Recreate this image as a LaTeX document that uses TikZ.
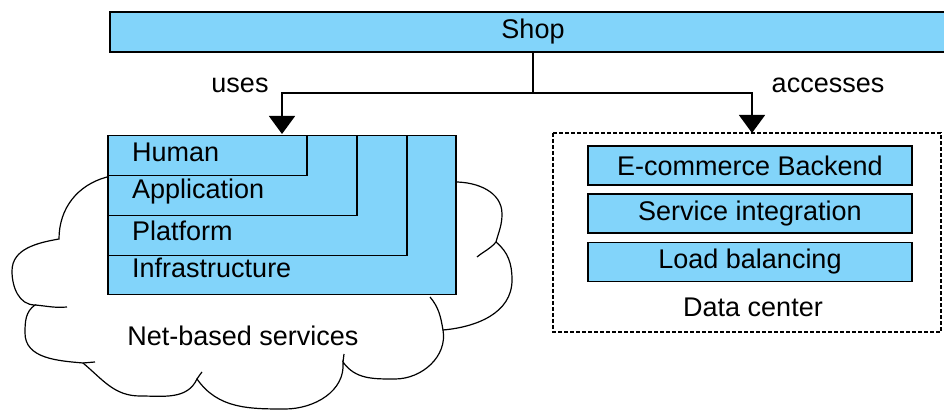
\documentclass[tikz,border=0pt]{standalone}
\usepackage{fontspec}
\setmainfont{Liberation Sans}
\usepackage{tikz}
\usetikzlibrary{arrows.meta}
\definecolor{bleucouche}{RGB}{130,212,250}
\newcommand{\tx}{\fontsize{27}{31}\selectfont}
\tikzstyle{trait}=[line width=1.5pt]
\tikzstyle{couche}=[draw,trait,fill=bleucouche,inner sep=0,anchor=north west]
\tikzstyle{bloc}=[draw,trait,fill=bleucouche,inner sep=0,minimum width=324pt,minimum height=39pt]
\tikzstyle{texte}=[font=\tx,inner sep=0]
\tikzstyle{fleche}=[trait,-{Triangle[width=26pt,length=18pt]}]
\tikzstyle{nuage}=[line width=1.2pt,fill=white]
\begin{document}
\begin{tikzpicture}[x=1pt,y=1pt]
\useasboundingbox (0,0) rectangle (944,411);
\clip (0,0) rectangle (944,411);
\fill[white] (0,0) rectangle (944,411);

%haut
\node[bloc,minimum width=846pt,minimum height=40pt] (shop) at (533,379) {};
\node[texte] (shoplbl) at (shop) {Shop};
\coordinate (partage) at (533,318);
\coordinate (usesend) at (282,277);
\coordinate (accend) at (752,278);
\draw[trait] (shop.south) -- (partage);
\draw[fleche] (partage) -| (usesend);
\draw[fleche] (partage) -| (accend);
\node[texte] (uses) at (240,326) {uses};
\node[texte] (accesses) at (828,326) {accesses};

%nuage
\draw[nuage] (107,234) to[out=195,in=90] (59,172)
  to[out=190,in=90] (12,140) to[out=-90,in=180] (35,106)
  to[out=215,in=90] (25,78) to[out=-90,in=175] (83,48)
  to[out=-40,in=180] (140,15) to[out=0,in=-115] (197,32)
  to[out=-55,in=180] (285,2) to[out=0,in=-85] (343,49)
  to[out=-55,in=180] (395,32) to[out=0,in=-80] (443,81)
  to[out=5,in=-90] (512,131) to[out=90,in=-40] (496,169)
  to[out=75,in=-90] (502,197) to[out=90,in=0] (455,229) -- (300,200) -- cycle;
\draw[line width=1.2pt] (35,106) to[out=-5,in=185] (67,104);
\draw[line width=1.2pt] (83,48) -- (95,49);
\draw[line width=1.2pt] (197,32) to[out=65,in=-120] (202,39);
\draw[line width=1.2pt] (343,49) -- (344,57);
\draw[line width=1.2pt] (443,81) to[out=100,in=-50] (430,114);
\draw[line width=1.2pt] (477,154) to[out=40,in=-130] (496,169);

%couches
\node[couche,minimum width=348pt,minimum height=159pt] (infra) at (107,276) {};
\node[couche,minimum width=299pt,minimum height=120pt] (platform) at (107,276) {};
\node[couche,minimum width=249pt,minimum height=80pt] (application) at (107,276) {};
\node[couche,minimum width=199pt,minimum height=40pt] (human) at (107,276) {};
\node[texte,anchor=west] (humanlbl) at (132,259) {Human};
\node[texte,anchor=west] (applbl) at (132,219) {Application};
\node[texte,anchor=west] (platlbl) at (132,180) {Platform};
\node[texte,anchor=west] (infralbl) at (132,143) {Infrastructure};
\node[texte] (netlbl) at (243,75) {Net-based services};

%centre de donnees
\draw[line width=1.2pt,dash pattern=on 4pt off 2pt] (553,278) rectangle (941,79);
\node[bloc] (backend) at (750,245.5) {};
\node[texte] (backendlbl) at (backend) {E-commerce Backend};
\node[bloc] (integration) at (750,197.5) {};
\node[texte] (integrationlbl) at (integration) {Service integration};
\node[bloc] (balancing) at (750,149) {};
\node[texte] (balancinglbl) at (balancing) {Load balancing};
\node[texte] (dclbl) at (753,104) {Data center};
\end{tikzpicture}
\end{document}
